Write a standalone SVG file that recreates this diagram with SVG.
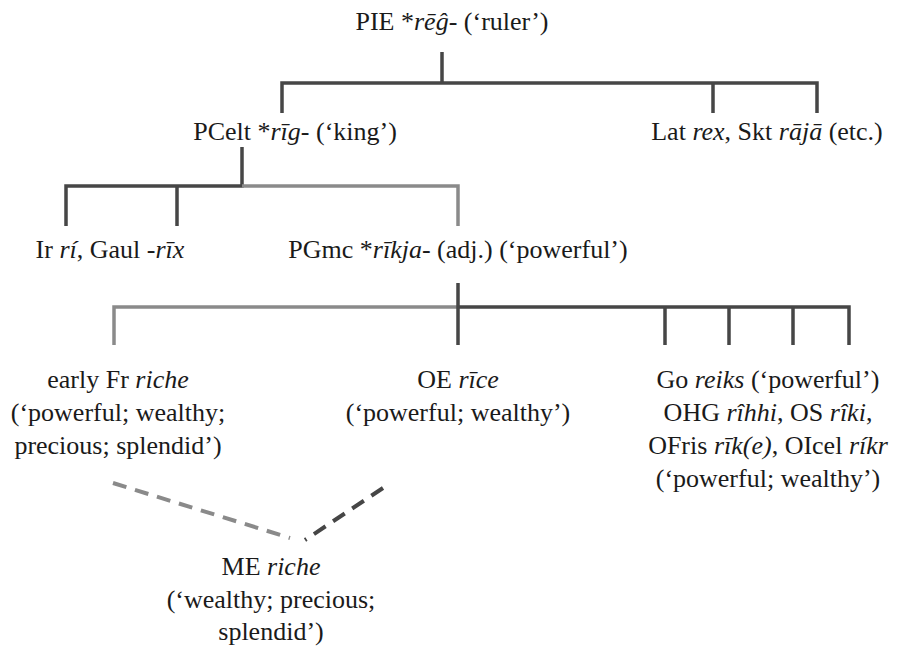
<svg xmlns="http://www.w3.org/2000/svg" width="898" height="648" viewBox="0 0 898 648">
<style>
.t{font-family:'Liberation Serif','Times New Roman',serif;font-size:26px;fill:#1a1a1a;text-anchor:middle}
.i{font-style:italic}
.d{stroke:#464646;stroke-width:3.5;fill:none}
.g{stroke:#8a8a8a;stroke-width:3.5;fill:none}
.dd{stroke:#464646;stroke-width:4;fill:none;stroke-dasharray:14 9}
.gd{stroke:#8a8a8a;stroke-width:4;fill:none;stroke-dasharray:14 9}
</style>
<rect width="898" height="648" fill="#fff"/>
<g id="connectors">
<path class="d" d="M442 52V83M282 113V83H817V113M713 83V113"/>
<path class="d" d="M242 147V186H66V226M177 186V226"/>
<path class="g" d="M242 186H458V226"/>
<path class="g" d="M458 307H114V345"/>
<path class="d" d="M458 283V345M458 307H849V345M665 307V345M729 307V345M793 307V345"/>
<path class="gd" d="M113 483L290 538"/>
<path class="dd" d="M383 488L305 540"/>
</g>
<g id="pie"><text class="t" x="452" y="30">PIE *<tspan class="i">rēĝ</tspan>- (‘ruler’)</text></g>
<g id="pcelt"><text class="t" x="295" y="140">PCelt *<tspan class="i">rīg</tspan>- (‘king’)</text></g>
<g id="lat"><text class="t" x="767" y="140">Lat <tspan class="i">rex</tspan>, Skt <tspan class="i">rājā</tspan> (etc.)</text></g>
<g id="ir"><text class="t" x="110" y="258">Ir <tspan class="i">rí</tspan>, Gaul -<tspan class="i">rīx</tspan></text></g>
<g id="pgmc"><text class="t" x="458" y="258">PGmc *<tspan class="i">rīkja</tspan>- (adj.) (‘powerful’)</text></g>
<g id="fr">
<text class="t" x="118" y="388">early Fr <tspan class="i">riche</tspan></text>
<text class="t" x="118" y="421">(‘powerful; wealthy;</text>
<text class="t" x="118" y="454">precious; splendid’)</text>
</g>
<g id="oe">
<text class="t" x="458" y="388">OE <tspan class="i">rīce</tspan></text>
<text class="t" x="458" y="421">(‘powerful; wealthy’)</text>
</g>
<g id="go">
<text class="t" x="768" y="388">Go <tspan class="i">reiks</tspan> (‘powerful’)</text>
<text class="t" x="768" y="421">OHG <tspan class="i">rîhhi</tspan>, OS <tspan class="i">rîki</tspan>,</text>
<text class="t" x="768" y="454">OFris <tspan class="i">rīk(e)</tspan>, OIcel <tspan class="i">ríkr</tspan></text>
<text class="t" x="768" y="487">(‘powerful; wealthy’)</text>
</g>
<g id="me">
<text class="t" x="271" y="575">ME <tspan class="i">riche</tspan></text>
<text class="t" x="271" y="608">(‘wealthy; precious;</text>
<text class="t" x="271" y="640">splendid’)</text>
</g>
</svg>
